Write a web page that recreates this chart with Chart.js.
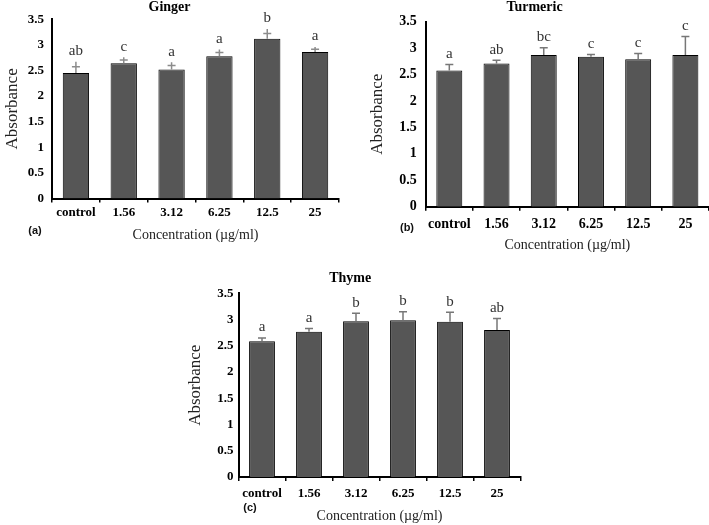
<!DOCTYPE html>
<html>
<head>
<meta charset="utf-8">
<script src="https://cdn.jsdelivr.net/npm/chart.js@4.4.1/dist/chart.umd.min.js"></script>
<style>
html, body { margin: 0; padding: 0; background: #fff; overflow: hidden; }
body { width: 709px; height: 525px; position: relative; }
.panel { position: absolute; }
.tag { position: absolute; font: bold 11px "Liberation Sans", Arial, sans-serif; transform: translate(-50%, -50%); color: #111; }
</style>
</head>
<body>
<div class="panel" style="left:0px;top:-2px;width:345px;height:247px"><canvas id="ginger"></canvas></div>
<div class="panel" style="left:360px;top:-2px;width:349px;height:257px"><canvas id="turmeric"></canvas></div>
<div class="panel" style="left:180px;top:268px;width:345px;height:258px"><canvas id="thyme"></canvas></div>
<span class="tag" style="left:35px;top:230px">(a)</span>
<span class="tag" style="left:407px;top:227px">(b)</span>
<span class="tag" style="left:250px;top:507px">(c)</span>
<script>
// データ
const categories = ['control', '1.56', '3.12', '6.25', '12.5', '25'];

const gingerMeans = [2.45, 2.64, 2.52, 2.78, 3.12, 2.86];
const gingerErrors = [0.22, 0.12, 0.14, 0.13, 0.19, 0.10];
const gingerLetters = ['ab', 'c', 'a', 'a', 'b', 'a'];

const turmericMeans = [2.58, 2.71, 2.87, 2.84, 2.79, 2.87];
const turmericErrors = [0.11, 0.06, 0.14, 0.04, 0.11, 0.35];
const turmericLetters = ['a', 'ab', 'bc', 'c', 'c', 'c'];

const thymeMeans = [2.59, 2.77, 2.97, 2.99, 2.96, 2.80];
const thymeErrors = [0.06, 0.06, 0.15, 0.16, 0.18, 0.22];
const thymeLetters = ['a', 'a', 'b', 'b', 'b', 'ab'];

const yMin = 0, yMax = 3.5, yStep = 0.5;

const serif = '"Liberation Serif", "Times New Roman", serif';

// エラーバーと文字を描くプラグイン
const errorBars = {
    id: 'errorBars',
    afterDatasetsDraw(chart, args, opts) {
        const ctx = chart.ctx;
        const y = chart.scales.y;
        const ds = chart.data.datasets[0];
        ctx.save();
        chart.getDatasetMeta(0).data.forEach((bar, i) => {
            const mean = ds.data[i], err = opts.errors[i];
            const top = y.getPixelForValue(mean + err);
            const base = y.getPixelForValue(mean - err * opts.below);
            const capY = y.getPixelForValue(mean + err * opts.capPos);
            ctx.strokeStyle = opts.color;
            ctx.lineWidth = 1.5;
            ctx.beginPath();
            ctx.moveTo(bar.x, base);
            ctx.lineTo(bar.x, top);
            ctx.moveTo(bar.x - 4, capY);
            ctx.lineTo(bar.x + 4, capY);
            ctx.stroke();
            ctx.fillStyle = '#333';
            ctx.font = '15px ' + serif;
            ctx.textAlign = 'center';
            ctx.textBaseline = 'bottom';
            ctx.fillText(opts.letters[i], bar.x, top - 3);
        });
        ctx.restore();
    }
};

function makeChart(id, title, means, errors, letters, lay) {
    const ctx = document.getElementById(id).getContext('2d');
    return new Chart(ctx, {
        type: 'bar',
        data: {
            labels: categories,
            datasets: [{
                data: means,
                backgroundColor: '#565656',
                borderColor: '#000',
                borderWidth: 1,
                barPercentage: 0.55,
                categoryPercentage: 1
            }]
        },
        plugins: [errorBars],
        options: {
            responsive: true,
            maintainAspectRatio: false,
            animation: false,
            layout: { padding: { left: 0, right: lay.padRight, top: 0, bottom: 0 } },
            plugins: {
                legend: { display: false },
                tooltip: { enabled: false },
                title: {
                    display: true,
                    text: title,
                    color: '#000',
                    font: { family: serif, size: 14, weight: 'bold' },
                    padding: lay.titlePad
                },
                errorBars: {
                    errors: errors,
                    letters: letters,
                    color: lay.errColor,
                    below: lay.below,
                    capPos: lay.capPos
                }
            },
            scales: {
                x: {
                    grid: { display: true, drawOnChartArea: false, drawTicks: true, tickLength: 4, color: '#000', lineWidth: 1.5 },
                    border: { display: true, color: '#000', width: 2 },
                    ticks: {
                        color: '#000',
                        font: { family: serif, size: lay.tickSize, weight: 'bold' },
                        padding: lay.xTickPad,
                        maxRotation: 0,
                        minRotation: 0,
                        autoSkip: false
                    },
                    title: {
                        display: true,
                        text: 'Concentration (µg/ml)',
                        color: '#222',
                        font: { family: serif, size: 14 },
                        padding: { top: 0, bottom: 1.6 }
                    },
                    afterFit(s) { s.height = lay.xHeight; }
                },
                y: {
                    min: yMin,
                    max: yMax,
                    ticks: {
                        stepSize: yStep,
                        color: '#000',
                        font: { family: serif, size: lay.tickSize, weight: 'bold' },
                        padding: lay.yTickPad,
                        callback: (v) => String(v)
                    },
                    grid: { display: false, drawTicks: false },
                    border: { display: true, color: '#000', width: 2 },
                    title: {
                        display: true,
                        text: 'Absorbance',
                        color: '#222',
                        font: { family: serif, size: 17 },
                        padding: { top: lay.yTitlePad, bottom: 0 }
                    },
                    afterFit(s) { s.width = lay.yWidth; }
                }
            }
        }
    });
}

makeChart('ginger', 'Ginger', gingerMeans, gingerErrors, gingerLetters, {
    padRight: 6, titlePad: { top: 1, bottom: 3.5 }, yWidth: 52, xHeight: 46.5,
    yTitlePad: 2, yTickPad: 8, xTickPad: 2, tickSize: 13,
    errColor: '#8c8c8c', below: 0, capPos: 0.55
});
makeChart('turmeric', 'Turmeric', turmericMeans, turmericErrors, turmericLetters, {
    padRight: 0, titlePad: { top: 1, bottom: 6 }, yWidth: 65.7, xHeight: 48.3,
    yTitlePad: 7.8, yTickPad: 9, xTickPad: 5, tickSize: 14,
    errColor: '#777', below: 0, capPos: 1
});
makeChart('thyme', 'Thyme', thymeMeans, thymeErrors, thymeLetters, {
    padRight: 4.5, titlePad: { top: 1.6, bottom: 7 }, yWidth: 58.5, xHeight: 49,
    yTitlePad: 5.8, yTickPad: 5, xTickPad: 5, tickSize: 13,
    errColor: '#777', below: 0, capPos: 1
});
</script>
</body>
</html>
